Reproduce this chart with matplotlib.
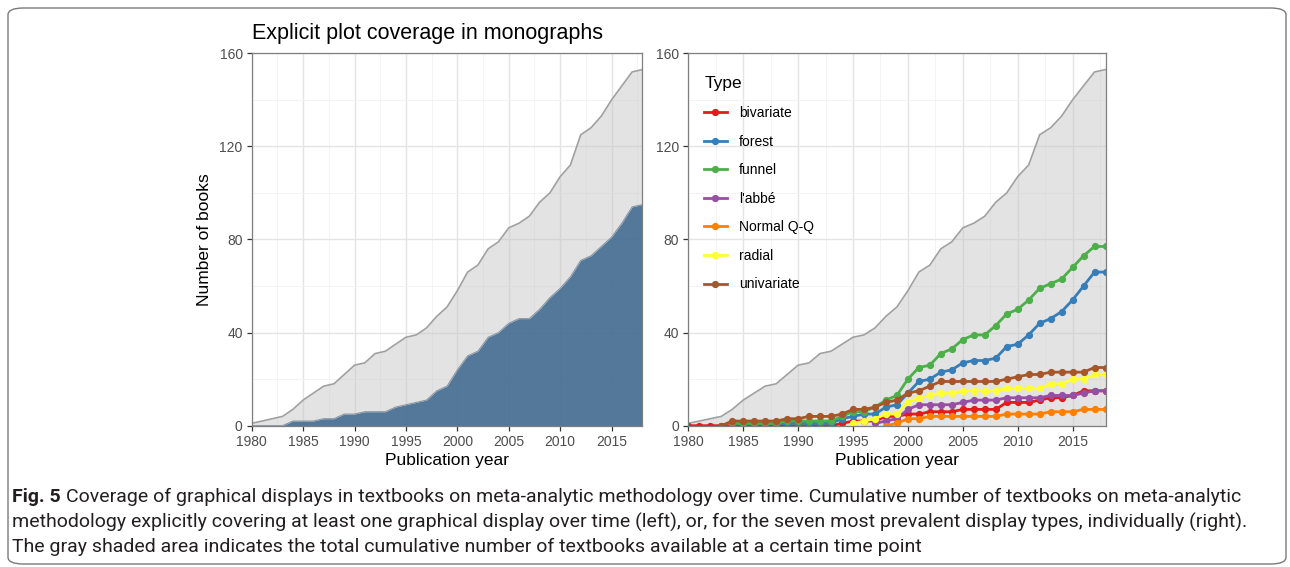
import numpy as np
import matplotlib
matplotlib.use("Agg")
import matplotlib.pyplot as plt
from matplotlib.patches import FancyBboxPatch

plt.rcParams["font.family"] = ["Liberation Sans", "DejaVu Sans"]

nan = np.nan
years = list(range(1980, 2019))

# cumulative number of textbooks available
total = [1, 2, 3, 4, 7, 11, 14, 17, 18, 22, 26, 27, 31, 32, 35, 38, 39, 42, 47, 51,
         58, 66, 69, 76, 79, 85, 87, 90, 96, 100, 107, 112, 125, 128, 133, 140, 146, 152, 153]
# textbooks covering at least one graphical display
covered = [0, 0, 0, 0, 2, 2, 2, 3, 3, 5, 5, 6, 6, 6, 8, 9, 10, 11, 15, 17,
           24, 30, 32, 38, 40, 44, 46, 46, 50, 55, 59, 64, 71, 73, 77, 81, 87, 94, 95]

# per display type (NaN = type not yet present)
bivariate = [0] * 14 + [1, 2, 2, 2, 4, 4, 5, 5, 6, 6, 6, 7, 7, 7, 7, 10, 10, 10, 11, 12, 12, 13, 15, 15, 15]
forest = [nan] * 4 + [1] * 10 + [3, 4, 5, 5, 8, 9, 14, 19, 20, 23, 24, 27, 28, 28, 29, 34, 35, 39, 44, 46, 49, 54, 60, 66, 66]
funnel = [nan] * 4 + [1] * 5 + [2] * 5 + [4, 6, 6, 8, 11, 13, 20, 25, 26, 31, 33, 37, 39, 39, 43, 48, 50, 54, 59, 61, 63, 68, 73, 77, 77]
labbe = [nan] * 17 + [1, 2, 3, 7, 9, 9, 9, 9, 10, 11, 11, 11, 12, 12, 12, 12, 13, 13, 13, 14, 15, 15]
normalqq = [nan] * 18 + [0, 1, 3, 3, 4, 4, 4, 4, 4, 4, 4, 5, 5, 5, 5, 6, 6, 6, 7, 7, 7]
radial = [nan] * 15 + [1, 2, 3, 5, 5, 10, 12, 13, 14, 14, 15, 15, 15, 15, 16, 16, 16, 16, 18, 18, 20, 20, 22, 22]
univariate = [nan] * 3 + [0, 2, 2, 2, 2, 2, 3, 3, 4, 4, 4, 5, 7, 7, 8, 10, 11, 14, 15, 17, 19, 19, 19, 19, 19, 19,
                          20, 21, 22, 22, 23, 23, 23, 23, 25, 25]

type_names = ["bivariate", "forest", "funnel", "l'abbé", "Normal Q-Q", "radial", "univariate"]
type_values = [bivariate, forest, funnel, labbe, normalqq, radial, univariate]
type_colors = ["#E41A1C", "#377EB8", "#4DAF4A", "#984EA3", "#FF7F00", "#FFFF33", "#A65628"]

caption_bold = "Fig. 5"
caption_lines = [
    "Coverage of graphical displays in textbooks on meta-analytic methodology over time. "
    "Cumulative number of textbooks on meta-analytic",
    "methodology explicitly covering at least one graphical display over time (left), or, "
    "for the seven most prevalent display types, individually (right).",
    "The gray shaded area indicates the total cumulative number of textbooks available "
    "at a certain time point",
]

W, H = 1290, 567
fig = plt.figure(figsize=(W / 100, H / 100), dpi=100)

# outer frame around figure + caption
fig.patches.append(FancyBboxPatch((8 / W, 3 / H), (W - 4) / W - 8 / W, (H - 11) / H,
                                  boxstyle="round,pad=0,rounding_size=0.012",
                                  transform=fig.transFigure, fill=False,
                                  edgecolor="#7a7a7a", linewidth=1.0))

ax1 = fig.add_axes([251.7 / W, 1 - 425.7 / H, (642.4 - 251.7) / W, (425.7 - 53.3) / H])
ax2 = fig.add_axes([688.3 / W, 1 - 425.7 / H, (1105.5 - 688.3) / W, (425.7 - 53.3) / H])


def style(ax):
    ax.set_xlim(1980, 2018)
    ax.set_ylim(0, 160)
    ax.set_xticks(range(1980, 2016, 5))
    ax.set_yticks([0, 40, 80, 120, 160])
    ax.set_xticks(np.arange(1982.5, 2018, 5), minor=True)
    ax.set_yticks([20, 60, 100, 140], minor=True)
    ax.grid(True, which="major", color="#e4e4e4", linewidth=1.0)
    ax.grid(True, which="minor", color="#f2f2f2", linewidth=0.6)
    ax.set_axisbelow(True)
    ax.tick_params(which="major", length=3.5, width=0.9, color="#333333",
                   labelsize=10, labelcolor="#4d4d4d", pad=3)
    ax.tick_params(which="minor", length=0)
    for s in ax.spines.values():
        s.set_color("#7f7f7f")
        s.set_linewidth(0.9)
    ax.set_xlabel("Publication year", fontsize=12.5, color="black", labelpad=3)


# left: explicit coverage
ax1.fill_between(years, total, color="#c8c8c8", alpha=0.5, linewidth=0)
ax1.plot(years, total, color="#a0a0a0", linewidth=1.2)
ax1.fill_between(years, covered, color="#35618a", alpha=0.82, linewidth=0)
ax1.plot(years, covered, color="#8a96a3", linewidth=0.8)
style(ax1)
ax1.set_ylabel("Number of books", fontsize=12.5, labelpad=5)
fig.text(252 / W, 1 - 33 / H, "Explicit plot coverage in monographs",
         fontsize=15.5, ha="left", va="center")

# right: by display type
ax2.fill_between(years, total, color="#c8c8c8", alpha=0.5, linewidth=0)
ax2.plot(years, total, color="#a0a0a0", linewidth=1.2)
for name, vals, col in zip(type_names, type_values, type_colors):
    ax2.plot(years, np.array(vals, dtype=float), color=col, linewidth=2.0,
             marker="o", markersize=4.2, label=name)
style(ax2)
leg = ax2.legend(title="Type", loc="upper left", frameon=False, fontsize=10,
                 title_fontsize=12.5, handlelength=1.6, handletextpad=0.9,
                 labelspacing=1.05, borderaxespad=0.0, bbox_to_anchor=(0.025, 0.953))
leg._legend_box.align = "left"

# caption (font size chosen so the second line nearly fills the box width)
cap_font = ["Roboto", "DejaVu Sans"]
rend = fig.canvas.get_renderer()
probe = fig.text(0, 0, caption_lines[1], fontsize=12, family=cap_font)
pw = probe.get_window_extent(renderer=rend).width
probe.remove()
cap_size = 12 * (1225 / pw)

x0 = 12 / W
ys = [497, 522, 547]
t = fig.text(x0, 1 - ys[0] / H, caption_bold, fontsize=cap_size, fontweight="bold",
             family=cap_font, va="center", ha="left", color="#231f20")
bb = t.get_window_extent(renderer=rend)
fig.text(bb.x1 / W + 5 / W, 1 - ys[0] / H, caption_lines[0],
         fontsize=cap_size, family=cap_font, va="center", ha="left", color="#231f20")
for line, yy in zip(caption_lines[1:], ys[1:]):
    fig.text(x0, 1 - yy / H, line, fontsize=cap_size, family=cap_font,
             va="center", ha="left", color="#231f20")

fig.savefig("out.png", dpi=100)
